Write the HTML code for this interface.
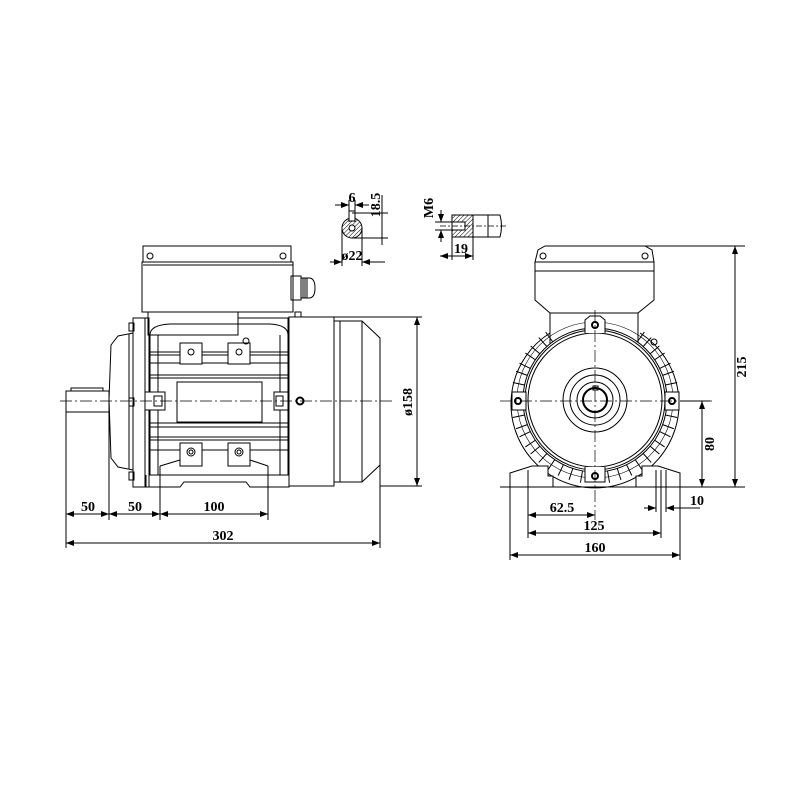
<!DOCTYPE html>
<html><head><meta charset="utf-8"><style>
html,body{margin:0;padding:0;background:#fff;}
svg{display:block;}
text{font-family:"Liberation Serif",serif;font-size:14px;fill:#000;font-weight:bold;}
</style></head><body>
<svg width="800" height="800" viewBox="0 0 800 800" xmlns="http://www.w3.org/2000/svg">
<defs>
<pattern id="h" width="3" height="3" patternUnits="userSpaceOnUse" patternTransform="rotate(45)"><line x1="0" y1="0" x2="0" y2="3" stroke="#000" stroke-width="1"/></pattern>
<marker id="a" markerWidth="8" markerHeight="6" refX="8" refY="3" orient="auto-start-reverse" markerUnits="userSpaceOnUse"><path d="M0,0 L8,3 L0,6 z" fill="#000"/></marker>
<line id="f" x1="595" y1="316" x2="595" y2="328"/>
</defs>
<g fill="none" stroke="#000" stroke-width="1">
<!-- LEFT VIEW -->
<rect x="143" y="246" width="148" height="16"/>
<rect x="142" y="262" width="151" height="50"/>
<line x1="143" y1="265" x2="293" y2="265"/>
<circle cx="150" cy="256" r="3"/><circle cx="283" cy="256" r="3"/>
<rect x="291" y="276" width="10" height="24"/>
<path d="M301,278 h8 q6,0 6,10 q0,10 -6,10 h-8"/>
<line x1="303" y1="278" x2="303" y2="298"/><line x1="305" y1="278" x2="305" y2="298"/><line x1="307" y1="278" x2="307" y2="298"/>
<rect x="148" y="312" width="90" height="23"/>
<path d="M238,318 h50 v17"/>
<rect x="66" y="391" width="43" height="21"/>
<rect x="71" y="388" width="32" height="3"/>
<path d="M133,333 L118,336 L111,345 L109,400 L111,458 L118,467 L133,470"/>
<line x1="129" y1="334" x2="129" y2="469"/>
<rect x="133" y="318" width="12" height="169"/>
<rect x="129" y="323" width="5" height="8"/><rect x="129" y="398" width="5" height="8"/><rect x="129" y="472" width="5" height="8"/>
<rect x="145" y="318" width="4" height="169"/>
<path d="M150,335 Q150,325 170,324 L270,324 Q288,325 288,335 L288,475 L150,475 Z"/>
<g>
<line x1="150" y1="352" x2="288" y2="352"/><line x1="150" y1="355" x2="288" y2="355"/>
<line x1="150" y1="363" x2="288" y2="363"/><line x1="150" y1="375" x2="288" y2="375"/>
<line x1="150" y1="378" x2="288" y2="378"/><line x1="150" y1="423" x2="288" y2="423"/>
<line x1="150" y1="427" x2="288" y2="427"/><line x1="150" y1="437" x2="288" y2="437"/>
<line x1="150" y1="440" x2="288" y2="440"/><line x1="150" y1="450" x2="288" y2="450"/>
<line x1="158" y1="335" x2="158" y2="475"/><line x1="280" y1="335" x2="280" y2="475"/>
</g>
<rect x="177" y="382" width="85" height="40" fill="#fff"/>
<rect x="180" y="343" width="22" height="21" fill="#fff"/><rect x="228" y="343" width="22" height="21" fill="#fff"/>
<circle cx="191" cy="352" r="3"/><circle cx="239" cy="352" r="3"/>
<rect x="180" y="443" width="22" height="23" fill="#fff"/><rect x="228" y="443" width="22" height="23" fill="#fff"/>
<circle cx="191" cy="452" r="4"/><circle cx="191" cy="452" r="2"/><circle cx="239" cy="452" r="4"/><circle cx="239" cy="452" r="2"/>
<rect x="145" y="392" width="20" height="18" fill="#fff"/><rect x="154" y="396" width="8" height="10"/>
<rect x="274" y="392" width="14" height="18" fill="#fff"/><rect x="276" y="396" width="7" height="10"/>
<circle cx="300" cy="401" r="3.5" stroke-width="2"/>
<circle cx="246" cy="341" r="3"/>
<path d="M146,475 L146,487 L180,487 L184,482 L246,482 L250,487 L289,487 L289,475"/>
<path d="M160,466 L180,460 M268,466 L250,460"/>
<rect x="289" y="317" width="45" height="169"/>
<path d="M334,321 H362 L380,338 V465 L362,482 H334"/>
<line x1="340" y1="321" x2="340" y2="482"/><line x1="362" y1="321" x2="362" y2="482"/>
<rect x="295" y="312" width="6" height="5"/>
<line x1="60" y1="401" x2="392" y2="401" stroke-width="0.7" stroke-dasharray="12,3,2,3"/>
<line x1="334" y1="317" x2="422" y2="317"/><line x1="380" y1="486" x2="422" y2="486"/>
<line x1="417" y1="317" x2="417" y2="486" marker-start="url(#a)" marker-end="url(#a)"/>
<line x1="66" y1="412" x2="66" y2="548"/><line x1="109" y1="412" x2="109" y2="520"/>
<line x1="160" y1="466" x2="160" y2="520"/><line x1="268" y1="466" x2="268" y2="520"/>
<line x1="380" y1="465" x2="380" y2="548"/>
<line x1="66" y1="514" x2="109" y2="514" marker-start="url(#a)" marker-end="url(#a)"/>
<line x1="109" y1="514" x2="160" y2="514" marker-start="url(#a)" marker-end="url(#a)"/>
<line x1="160" y1="514" x2="268" y2="514" marker-start="url(#a)" marker-end="url(#a)"/>
<line x1="66" y1="543" x2="380" y2="543" marker-start="url(#a)" marker-end="url(#a)"/>

<!-- RIGHT VIEW -->
<path d="M535,262 L538,250 L545,246 L645,246 L652,250 L654,262 Z"/>
<rect x="535" y="262" width="119" height="9"/>
<path d="M535,271 V300 L550,313 H638 L654,300 V271"/>
<circle cx="543" cy="256" r="3"/><circle cx="645" cy="256" r="3"/>
<path d="M550,313 V345 M638,313 V345"/>
<path d="M550,333 A84,84 0 1,0 640,333"/>
<circle cx="595" cy="400" r="72" fill="#fff"/>
<circle cx="595" cy="400" r="70"/><circle cx="595" cy="400" r="67"/>
<g>
<use href="#f" transform="rotate(36 595 400)"/><use href="#f" transform="rotate(42 595 400)"/>
<use href="#f" transform="rotate(50 595 400)"/><use href="#f" transform="rotate(56 595 400)"/>
<use href="#f" transform="rotate(64 595 400)"/><use href="#f" transform="rotate(70 595 400)"/>
<use href="#f" transform="rotate(78 595 400)"/><use href="#f" transform="rotate(102 595 400)"/>
<use href="#f" transform="rotate(110 595 400)"/><use href="#f" transform="rotate(116 595 400)"/>
<use href="#f" transform="rotate(124 595 400)"/><use href="#f" transform="rotate(130 595 400)"/>
<use href="#f" transform="rotate(138 595 400)"/><use href="#f" transform="rotate(146 595 400)"/>
<use href="#f" transform="rotate(154 595 400)"/><use href="#f" transform="rotate(162 595 400)"/>
<use href="#f" transform="rotate(170 595 400)"/><use href="#f" transform="rotate(190 595 400)"/>
<use href="#f" transform="rotate(198 595 400)"/><use href="#f" transform="rotate(206 595 400)"/>
<use href="#f" transform="rotate(214 595 400)"/><use href="#f" transform="rotate(222 595 400)"/>
<use href="#f" transform="rotate(230 595 400)"/><use href="#f" transform="rotate(236 595 400)"/>
<use href="#f" transform="rotate(244 595 400)"/><use href="#f" transform="rotate(250 595 400)"/>
<use href="#f" transform="rotate(258 595 400)"/><use href="#f" transform="rotate(282 595 400)"/>
<use href="#f" transform="rotate(290 595 400)"/><use href="#f" transform="rotate(296 595 400)"/>
<use href="#f" transform="rotate(304 595 400)"/><use href="#f" transform="rotate(310 595 400)"/>
<use href="#f" transform="rotate(318 595 400)"/><use href="#f" transform="rotate(324 595 400)"/>
</g>
<circle cx="595" cy="400" r="78" stroke-width="0.6"/>
<circle cx="595" cy="400" r="32"/><circle cx="595" cy="400" r="25"/><circle cx="595" cy="400" r="18"/><circle cx="595" cy="400" r="12" stroke-width="2"/>
<rect x="593" y="386" width="5" height="4"/>
<path d="M585,333 V320 L590,316 H600 L605,320 V333" fill="#fff"/><circle cx="595" cy="325" r="3" stroke-width="2"/>
<path d="M585,467 V482 H605 V467" fill="#fff"/><circle cx="595" cy="476" r="3" stroke-width="2"/>
<rect x="512" y="392" width="14" height="18" fill="#fff"/><circle cx="518" cy="401" r="3" stroke-width="2"/>
<rect x="665" y="392" width="14" height="18" fill="#fff"/><circle cx="672" cy="401" r="3" stroke-width="2"/>
<circle cx="654" cy="342" r="3"/>
<path d="M510,487 V473 L532,466 L548,466 V476 H553 V487" fill="#fff"/>
<path d="M680,487 V473 L658,466 L642,466 V476 H636 V487" fill="#fff"/>
<line x1="500" y1="487" x2="690" y2="487"/>
<line x1="500" y1="401" x2="715" y2="401" stroke-width="0.7" stroke-dasharray="12,3,2,3"/>
<line x1="595" y1="310" x2="595" y2="520" stroke-width="0.7" stroke-dasharray="12,3,2,3"/>
<line x1="645" y1="246" x2="745" y2="246"/>
<line x1="735" y1="246" x2="735" y2="487" marker-start="url(#a)" marker-end="url(#a)"/>
<line x1="690" y1="487" x2="745" y2="487"/>
<line x1="680" y1="401" x2="710" y2="401"/>
<line x1="702" y1="401" x2="702" y2="487" marker-start="url(#a)" marker-end="url(#a)"/>
<line x1="528" y1="470" x2="528" y2="538"/><line x1="661" y1="470" x2="661" y2="538"/>
<line x1="510" y1="487" x2="510" y2="560"/><line x1="680" y1="487" x2="680" y2="560"/>
<line x1="656" y1="470" x2="656" y2="512"/><line x1="666" y1="470" x2="666" y2="512"/>
<line x1="528" y1="515" x2="595" y2="515" marker-start="url(#a)" marker-end="url(#a)"/>
<line x1="528" y1="533" x2="661" y2="533" marker-start="url(#a)" marker-end="url(#a)"/>
<line x1="510" y1="555" x2="680" y2="555" marker-start="url(#a)" marker-end="url(#a)"/>
<line x1="644" y1="508" x2="656" y2="508" marker-end="url(#a)"/>
<line x1="678" y1="508" x2="666" y2="508" marker-end="url(#a)"/>
<line x1="678" y1="508" x2="700" y2="508"/>

<!-- TOP DETAILS -->
<circle cx="352" cy="228" r="10" fill="url(#h)"/>
<rect x="349" y="211" width="6" height="10" fill="#fff"/>
<circle cx="352" cy="228" r="3" fill="#fff"/>
<line x1="349" y1="200" x2="349" y2="222"/><line x1="355" y1="200" x2="355" y2="222"/>
<line x1="335" y1="205" x2="349" y2="205" marker-end="url(#a)"/><line x1="369" y1="205" x2="355" y2="205" marker-end="url(#a)"/>
<line x1="352" y1="213" x2="388" y2="213"/><line x1="352" y1="238" x2="388" y2="238"/>
<line x1="382" y1="195" x2="382" y2="245"/>
<line x1="342" y1="228" x2="342" y2="266"/><line x1="362" y1="228" x2="362" y2="266"/>
<line x1="330" y1="262" x2="342" y2="262" marker-end="url(#a)"/><line x1="385" y1="262" x2="362" y2="262" marker-end="url(#a)"/>
<rect x="452" y="215" width="21" height="22" fill="url(#h)"/>
<rect x="452" y="222" width="13" height="8" fill="#fff"/>
<path d="M473,215 H500 Q503,226 500,237 H473"/>
<line x1="488" y1="215" x2="488" y2="237"/>
<line x1="440" y1="226" x2="508" y2="226" stroke-width="0.7" stroke-dasharray="6,2,2,2"/>
<line x1="435" y1="222" x2="452" y2="222"/><line x1="435" y1="230" x2="452" y2="230"/>
<line x1="441" y1="210" x2="441" y2="222" marker-end="url(#a)"/><line x1="441" y1="242" x2="441" y2="230" marker-end="url(#a)"/>
<line x1="452" y1="237" x2="452" y2="260"/><line x1="473" y1="237" x2="473" y2="260"/>
<line x1="440" y1="256" x2="473" y2="256" marker-start="url(#a)" marker-end="url(#a)"/>
</g>
<g>
<text x="88" y="511" text-anchor="middle">50</text>
<text x="135" y="511" text-anchor="middle">50</text>
<text x="214" y="511" text-anchor="middle">100</text>
<text x="223" y="540" text-anchor="middle">302</text>
<text transform="translate(412,402) rotate(-90)" text-anchor="middle">ø158</text>
<text x="562" y="512" text-anchor="middle">62.5</text>
<text x="594" y="530" text-anchor="middle">125</text>
<text x="595" y="552" text-anchor="middle">160</text>
<text x="690" y="505">10</text>
<text transform="translate(714,444) rotate(-90)" text-anchor="middle">80</text>
<text transform="translate(746,367) rotate(-90)" text-anchor="middle">215</text>
<text x="352" y="202" text-anchor="middle">6</text>
<text transform="translate(380,205) rotate(-90)" text-anchor="middle">18.5</text>
<text x="352" y="260" text-anchor="middle">ø22</text>
<text transform="translate(433,208) rotate(-90)" text-anchor="middle">M6</text>
<text x="461" y="253" text-anchor="middle">19</text>
</g>
</svg>
</body></html>
